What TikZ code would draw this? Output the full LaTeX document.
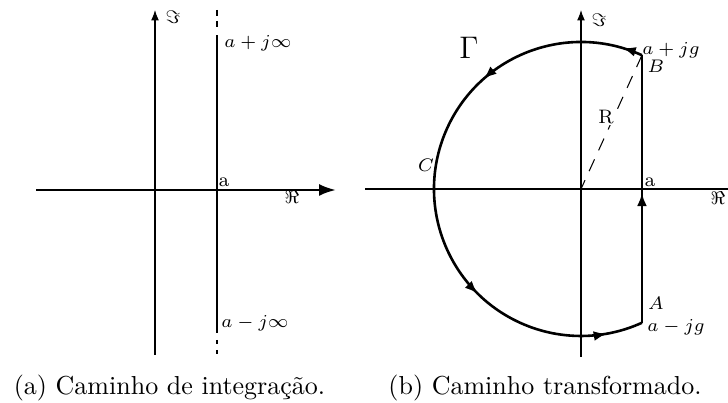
\documentclass[tikz,border=0pt]{standalone}
\usetikzlibrary{arrows.meta,decorations.markings,calc}
\begin{document}
\begin{tikzpicture}[x=0.3846pt,y=0.3846pt,
  thickline/.style={line width=1pt},
  thinline/.style={line width=0.4pt},
  lbl/.style={font=\fontsize{7.5}{9}\selectfont, inner sep=0pt},
  biglbl/.style={font=\fontsize{11.5}{13}\selectfont, inner sep=0pt},
  captext/.style={font=\normalsize, anchor=base, inner sep=0pt},
  axtip/.style={-{Latex[length=4pt,width=3pt]}}]
\useasboundingbox (0,0) rectangle (728,403);
% ---------------- left panel ----------------
\coordinate (Limbot) at (155,48);
\coordinate (Limtop) at (155,393);
\coordinate (Lrel) at (36,213);
\coordinate (Lrer) at (336,213);
\coordinate (Lv0) at (217,48);
\coordinate (Lv1) at (217,63);
\coordinate (Lv2) at (217,70);
\coordinate (Lv3) at (217,368);
\coordinate (Lv4) at (217,375);
\coordinate (Lv5) at (217,393);
\draw[thinline,axtip] (Limbot) -- (Limtop);
\draw[thickline,-{Latex[length=6.5pt,width=4.6pt]}] (Lrel) -- (Lrer);
\draw[thickline] (Lv2) -- (Lv3);
\draw[thickline,dash pattern=on 2.3pt off 1.9pt] (Lv5) -- (Lv4);
\draw[thickline,dash pattern=on 1.5pt off 2.3pt] (Lv1) -- (Lv0);
\node[lbl] (LIm) at (173,386) {$\Im$};
\node[lbl] (Lplus) at (258,360) {$a+j\infty$};
\node[lbl] (La) at (224,221) {a};
\node[lbl] (LRe) at (292,206) {$\Re$};
\node[lbl] (Lminus) at (255,80) {$a-j\infty$};
\node[captext] (capa) at (169.5,8) {(a) Caminho de integração.};
% ---------------- right panel ----------------
\coordinate (O) at (581,214);
\coordinate (Rimbot) at (581,46);
\coordinate (Rimtop) at (581,393);
\coordinate (Rrel) at (365,214);
\coordinate (Rrer) at (728,214);
\coordinate (B) at ($(O)+(65.5:147)$);
\coordinate (A) at ($(O)+(-65.5:147)$);
\draw[thinline,axtip] (Rimbot) -- (Rimtop);
\draw[thinline] (Rrel) -- (Rrer);
\draw[thinline,dash pattern=on 5pt off 3.8pt] (B) -- (O);
\draw[thickline,postaction={decorate},decoration={markings,
   mark=at position 0.035 with {\arrow{Latex[length=5pt,width=3.8pt]}},
   mark=at position 0.288 with {\arrow{Latex[length=5pt,width=3.8pt]}},
   mark=at position 0.698 with {\arrow{Latex[length=5pt,width=3.8pt]}},
   mark=at position 0.937 with {\arrow{Latex[length=5pt,width=3.8pt]}}}]
   (B) arc[start angle=65.5, end angle=294.5, radius=147];
\draw[thickline,postaction={decorate},decoration={markings,
   mark=at position 0.485 with {\arrow{Latex[length=5pt,width=3.8pt]}}}]
   (A) -- (B);
\node[lbl,fill=white,inner sep=0.5pt] (Rlab) at (606,286) {R};
\node[lbl] (Rplus) at (671,353) {$a+jg$};
\node[lbl] (Blab) at (656,337) {$B$};
\node[lbl] (Alab) at (656,100) {$A$};
\node[lbl] (Rminus) at (676,76) {$a-jg$};
\node[lbl] (Ra) at (650,221) {a};
\node[lbl] (RRe) at (718,205) {$\Re$};
\node[lbl] (RIm) at (599,383) {$\Im$};
\node[lbl] (Clab) at (426,238) {$C$};
\node[biglbl] (Gam) at (469,355) {$\Gamma$};
\node[captext] (capb) at (545,8) {(b) Caminho transformado.};
\end{tikzpicture}
\end{document}
